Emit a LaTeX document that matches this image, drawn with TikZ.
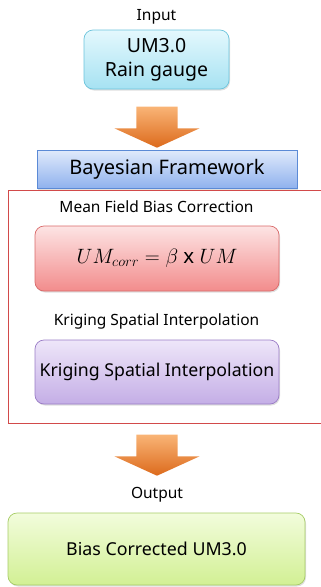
\documentclass[tikz,border=0pt]{standalone}
\usepackage{fontspec}
\setmainfont{Noto Sans}
\usetikzlibrary{shapes.arrows,shadows}
\definecolor{inborder}{HTML}{6CC4DC}
\definecolor{intop}{HTML}{E4F8FD}
\definecolor{inbot}{HTML}{A6E2F2}
\definecolor{bayborder}{HTML}{5B8AD6}
\definecolor{baytop}{HTML}{E0EAFB}
\definecolor{baybot}{HTML}{90B2EE}
\definecolor{frameline}{HTML}{D24A4A}
\definecolor{mfbborder}{HTML}{D96A6A}
\definecolor{mfbtop}{HTML}{FDE4E4}
\definecolor{mfbbot}{HTML}{F28C8C}
\definecolor{krigborder}{HTML}{9A7CC6}
\definecolor{krigtop}{HTML}{EEE6F9}
\definecolor{krigbot}{HTML}{C4AEE6}
\definecolor{outborder}{HTML}{A6CC66}
\definecolor{outtop}{HTML}{F2FCDC}
\definecolor{outbot}{HTML}{D2F094}
\definecolor{arrtop}{HTML}{F9B476}
\definecolor{arrbot}{HTML}{DC6A1C}

\begin{document}
\begin{tikzpicture}[x=1pt, y=-1pt,
  roundbox/.style={rectangle, rounded corners=9pt, line width=0.7pt, align=center, inner sep=0pt,
    drop shadow={opacity=0.25, shadow xshift=1pt, shadow yshift=-1.5pt}},
  caption/.style={inner sep=0pt, font=\fontsize{15.5}{18}\selectfont},
  downarrow/.style={single arrow, rotate=-90, inner xsep=0pt, inner ysep=20.5pt, minimum height=41pt, minimum width=85pt,
    single arrow head extend=22pt, single arrow tip angle=131, top color=arrtop, bottom color=arrbot}]
\useasboundingbox (0,0) rectangle (321,587);
\node[caption] at (156.5, 17.0) (inlabel) {Input};
\node[roundbox, draw=inborder, top color=intop, bottom color=inbot, minimum width=145pt, minimum height=59pt,
  font=\fontsize{19.5}{24}\selectfont] at (156.5, 59.5) (input) {UM3.0\\Rain gauge};
\node[downarrow] at (157.0, 122.5) (arrowa) {};
\node[rectangle, draw=bayborder, line width=0.7pt, top color=baytop, bottom color=baybot, minimum width=260pt,
  minimum height=38pt, inner sep=0pt, font=\fontsize{20}{24}\selectfont,
  drop shadow={opacity=0.25, shadow xshift=1pt, shadow yshift=-1.5pt}] at (167.0, 169.0) (bayes) {Bayesian Framework};
\draw[frameline, line width=0.6pt] (323, 190) -- (8, 190) -- (8, 423) -- (323, 423);
\node[caption] at (156.5, 207.0) (mfblabel) {Mean Field Bias Correction};
\node[roundbox, draw=mfbborder, top color=mfbtop, bottom color=mfbbot, minimum width=244pt, minimum height=65pt,
  font=\fontsize{20.5}{24}\selectfont] at (157.0, 258.5) (mfb) {$UM_{corr} = \beta\ \mathrm{x}\ UM$};
\node[caption] at (156.5, 321.0) (kriglabel) {Kriging Spatial Interpolation};
\node[roundbox, draw=krigborder, top color=krigtop, bottom color=krigbot, minimum width=244pt, minimum height=64pt,
  font=\fontsize{17.7}{20}\selectfont] at (157.0, 372.0) (krig) {Kriging Spatial Interpolation};
\node[downarrow] at (157.0, 450.5) (arrowb) {};
\node[caption] at (157.0, 495.0) (outlabel) {Output};
\node[roundbox, draw=outborder, top color=outtop, bottom color=outbot, minimum width=297pt, minimum height=72pt,
  font=\fontsize{17.8}{20}\selectfont] at (156.5, 549.0) (output) {Bias Corrected UM3.0};
\end{tikzpicture}
\end{document}
